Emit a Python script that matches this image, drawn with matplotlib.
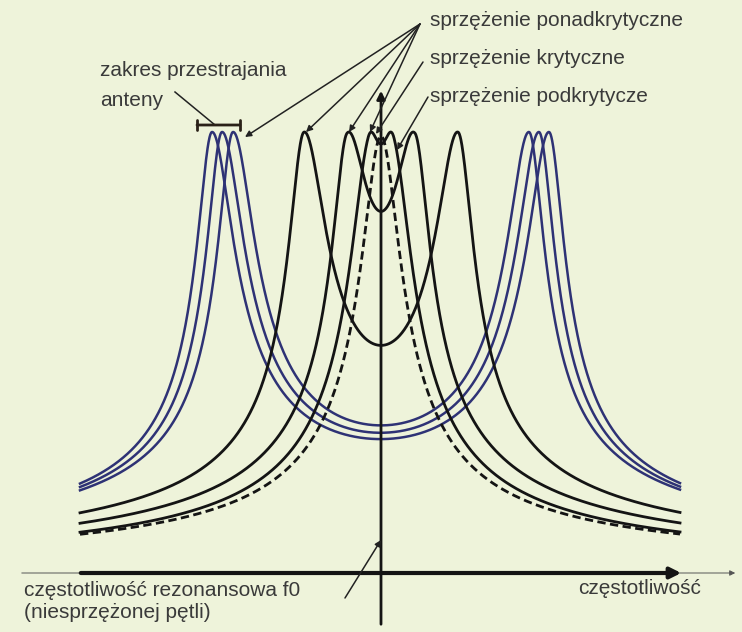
"""Resonance curves of a coupled antenna/transponder pair (schematic)."""
import numpy as np
import matplotlib

matplotlib.use("Agg")
import matplotlib.pyplot as plt

plt.rcParams["font.family"] = ["Liberation Sans", "DejaVu Sans"]

# frequency offsets from f0 (same units as the x axis) of the resonance peaks
BLUE_PEAKS = [(-169, 168), (-159, 158), (-148, 148)]   # antenna retuned, strong coupling
BLACK_PEAKS = [(-77, 77), (-34, 34), (-13, 13)]        # over- to critical coupling
DASHED_PEAK = [0]                                      # undercritical coupling

# peak half-widths (outer flank / flank facing f0) and tail exponent of each curve
BLUE_W_OUT = [14, 14, 14]
BLUE_W_IN = [20, 20, 20]
BLUE_EXP = 0.42
BLACK_W_OUT = [14.5, 14, 18]
BLACK_W_IN = [21, 20, 13]
BLACK_EXP = 0.45
DASHED_WIDTH = 18
DASHED_EXP = 0.43

PEAK_LEVEL = 441
DASHED_LEVEL = 437
F_RANGE = (-301, 299)
TUNING_RANGE = (-184, -141)

BG = "#eef3da"
BLUE = "#2e3275"
INK = "#141414"
TEXT = "#3a3a3a"


def resonance(f, peaks, w_out, w_in, exp):
    """Sum of peaked responses, flank facing f0 a bit wider; normalised to 1."""
    g = np.zeros_like(f)
    for p in peaks:
        inner = (f - p) * (0 - p) > 0
        w = np.where(inner, w_in, w_out)
        g += (1 + ((f - p) / w) ** 2) ** (-exp)
    return g / g.max()


f = np.linspace(F_RANGE[0], F_RANGE[1], 2400)

fig = plt.figure(figsize=(7.42, 6.32), dpi=100)
fig.patch.set_facecolor(BG)
ax = fig.add_axes([0, 0, 1, 1])
ax.set_facecolor(BG)
ax.set_xlim(-381, 361)
ax.set_ylim(-59, 573)
ax.axis("off")

for peaks, wo, wi in zip(BLUE_PEAKS, BLUE_W_OUT, BLUE_W_IN):
    ax.plot(f, PEAK_LEVEL * resonance(f, peaks, wo, wi, BLUE_EXP), color=BLUE, lw=1.8)
for peaks, wo, wi in zip(BLACK_PEAKS, BLACK_W_OUT, BLACK_W_IN):
    ax.plot(f, PEAK_LEVEL * resonance(f, peaks, wo, wi, BLACK_EXP), color=INK, lw=2)
ax.plot(f, DASHED_LEVEL * resonance(f, DASHED_PEAK, DASHED_WIDTH, DASHED_WIDTH, DASHED_EXP),
        color=INK, lw=2, ls=(0, (3, 1.6)))

# frequency axis: thin full-width line + thick arrow
ax.annotate("", xy=(357, 0), xytext=(-362, 0),
            arrowprops=dict(arrowstyle="-|>", lw=0.7, color="#555555", mutation_scale=8))
ax.annotate("", xy=(F_RANGE[1] + 4, 0), xytext=(F_RANGE[0] - 2, 0),
            arrowprops=dict(arrowstyle="-|>", lw=3, color=INK, mutation_scale=16))
# f0 line
ax.annotate("", xy=(0, 485), xytext=(0, -54),
            arrowprops=dict(arrowstyle="-|>", lw=2, color=INK, mutation_scale=12))

arrow = dict(arrowstyle="-|>", lw=1.1, color="#222222", mutation_scale=9,
             shrinkA=0, shrinkB=0)

# over-critical labels
src = (39, 549)
ax.annotate("", xy=(BLUE_PEAKS[2][0] + 12, PEAK_LEVEL - 5), xytext=src, arrowprops=arrow)
for p, _ in BLACK_PEAKS:
    ax.annotate("", xy=(p + 2, PEAK_LEVEL), xytext=src, arrowprops=arrow)
ax.text(49, 553, "sprzężenie ponadkrytyczne", fontsize=15, color=TEXT, va="center")

ax.annotate("", xy=(-5, PEAK_LEVEL - 2), xytext=(42, 511), arrowprops=arrow)
ax.text(49, 515, "sprzężenie krytyczne", fontsize=15, color=TEXT, va="center")

ax.annotate("", xy=(16, 423), xytext=(47, 476), arrowprops=arrow)
ax.text(49, 477, "sprzężenie podkrytycze", fontsize=15, color=TEXT, va="center")

# antenna tuning range
ax.annotate("", xy=(TUNING_RANGE[1], PEAK_LEVEL + 7), xytext=(TUNING_RANGE[0], PEAK_LEVEL + 7),
            arrowprops=dict(arrowstyle="|-|, widthA=0.35, widthB=0.35", lw=2,
                            color="#2a2118", shrinkA=0, shrinkB=0))
ax.plot([-206, -166], [481, PEAK_LEVEL + 7], color="#222222", lw=1.1)
ax.text(-281, 503, "zakres przestrajania", fontsize=15, color=TEXT, va="center")
ax.text(-281, 473, "anteny", fontsize=15, color=TEXT, va="center")

# resonance frequency of the uncoupled loop
ax.annotate("", xy=(0, 33), xytext=(-36, -25), arrowprops=arrow)
ax.text(-357, -17, "częstotliwość rezonansowa f0", fontsize=15, color=TEXT, va="center")
ax.text(-357, -39, "(niesprzężonej pętli)", fontsize=15, color=TEXT, va="center")
ax.text(197, -15, "częstotliwość", fontsize=15, color=TEXT, va="center")

fig.savefig("out.png", dpi=100, facecolor=BG)
